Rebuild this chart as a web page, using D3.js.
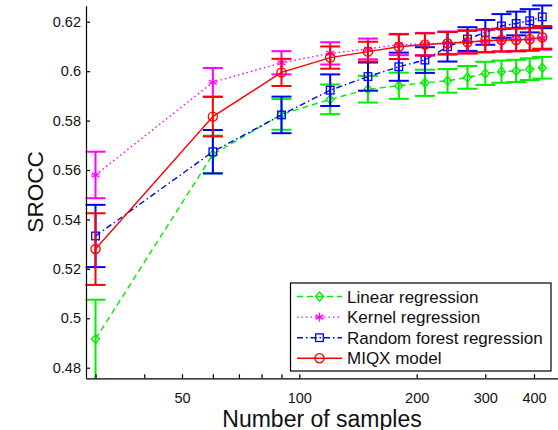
<!DOCTYPE html>
<html>
<head>
<meta charset="utf-8">
<script src="https://cdn.jsdelivr.net/npm/d3@7"></script>
<style>
  html, body { margin: 0; padding: 0; background: #fff; }
  svg { display: block; font-family: "Liberation Sans", Arial, Helvetica, sans-serif; }
</style>
</head>
<body>
<svg id="chart" width="558" height="430"></svg>
<script>
// Training-set sizes (x) and mean SROCC with error half-widths per method
const samples = [30, 60, 90, 120, 150, 180, 210, 240, 270, 300, 330, 360, 390, 420];

const linearMean = [0.4916, 0.5663, 0.5825, 0.5886, 0.5927, 0.5941, 0.5953, 0.5961, 0.5975, 0.5991, 0.5998, 0.6001, 0.6008, 0.6014];
const linearErr  = [0.0159, 0.0076, 0.0062, 0.0060, 0.0054, 0.0053, 0.0053, 0.0048, 0.0046, 0.0047, 0.0045, 0.0045, 0.0044, 0.0044];

const kernelMean = [0.5580, 0.5955, 0.6034, 0.6072, 0.6090, 0.6108, 0.6110, 0.6115, 0.6120, 0.6122, 0.6125, 0.6128, 0.6130, 0.6133];
const kernelErr  = [0.0094, 0.0058, 0.0047, 0.0045, 0.0042, 0.0043, 0.0045, 0.0045, 0.0046, 0.0046, 0.0046, 0.0046, 0.0046, 0.0046];

const forestMean = [0.5333, 0.5674, 0.5823, 0.5923, 0.5978, 0.6018, 0.6045, 0.6099, 0.6130, 0.6157, 0.6183, 0.6193, 0.6204, 0.6220];
const forestErr  = [0.0126, 0.0088, 0.0074, 0.0064, 0.0057, 0.0057, 0.0052, 0.0060, 0.0048, 0.0050, 0.0048, 0.0048, 0.0047, 0.0046];

const miqxMean = [0.5280, 0.5816, 0.5995, 0.6055, 0.6079, 0.6099, 0.6108, 0.6113, 0.6117, 0.6123, 0.6126, 0.6126, 0.6129, 0.6137];
const miqxErr  = [0.0145, 0.0080, 0.0055, 0.0045, 0.0040, 0.0050, 0.0045, 0.0046, 0.0046, 0.0046, 0.0046, 0.0046, 0.0046, 0.0046];

const seriesNames = ["Linear regression", "Kernel regression", "Random forest regression", "MIQX model"];

const xTicks = [30, 40, 50, 60, 70, 80, 90, 100, 200, 300, 400];
const xTickLabels = [50, 100, 200, 300, 400];
const yTicks = [0.48, 0.50, 0.52, 0.54, 0.56, 0.58, 0.60, 0.62];

const xTitle = "Number of samples";
const yTitle = "SROCC";

// Series styling
const series = [
  { name: seriesNames[0], mean: linearMean, err: linearErr, color: "#00ee00", dash: "6,4", marker: "diamond" },
  { name: seriesNames[1], mean: kernelMean, err: kernelErr, color: "#ff00ff", dash: "1.5,3", marker: "star" },
  { name: seriesNames[2], mean: forestMean, err: forestErr, color: "#0000ff", dash: "6,3,1.5,3", marker: "square" },
  { name: seriesNames[3], mean: miqxMean, err: miqxErr, color: "#ff0000", dash: null, marker: "circle" }
];

const svg = d3.select("#chart");

const x = d3.scaleLog().domain([28.36, 460.9]).range([86, 558]);
const y = d3.scaleLinear().domain([0.4757, 0.6265]).range([378.3, 5.7]);

const plot = svg.append("g");

function drawMarker(g, type, cx, cy, color) {
  const s = g.append("g").attr("transform", `translate(${cx},${cy})`)
    .attr("fill", "none").attr("stroke", color).attr("stroke-width", 1.3);
  if (type === "diamond") {
    s.append("path").attr("d", "M0,-4.5L4,0L0,4.5L-4,0Z");
  } else if (type === "square") {
    s.append("rect").attr("x", -3.8).attr("y", -3.8).attr("width", 7.6).attr("height", 7.6);
  } else if (type === "circle") {
    s.append("circle").attr("r", 4.6);
  } else if (type === "star") {
    const r = 4.5;
    [90, 30, 150].forEach(a => {
      const rad = a * Math.PI / 180;
      s.append("line")
        .attr("x1", -r * Math.cos(rad)).attr("y1", -r * Math.sin(rad))
        .attr("x2", r * Math.cos(rad)).attr("y2", r * Math.sin(rad));
    });
    s.append("line").attr("x1", -r).attr("x2", r).attr("y1", 0).attr("y2", 0).attr("stroke-width", 0.8);
  }
}

const capHalf = 10;
const line = d3.line().x(d => x(d[0])).y(d => y(d[1]));

series.forEach(s => {
  const g = plot.append("g");
  const pts = samples.map((n, i) => [n, s.mean[i], s.err[i]]);

  // error bars
  const eb = g.append("g").attr("stroke", s.color).attr("stroke-width", 2);
  pts.forEach(p => {
    const cx = x(p[0]);
    const lo = Math.max(p[1] - p[2], y.domain()[0]);
    const hi = p[1] + p[2];
    eb.append("line").attr("x1", cx).attr("x2", cx).attr("y1", y(lo)).attr("y2", y(hi));
    eb.append("line").attr("x1", cx - capHalf).attr("x2", cx + capHalf).attr("y1", y(hi)).attr("y2", y(hi));
    if (p[1] - p[2] >= y.domain()[0]) {
      eb.append("line").attr("x1", cx - capHalf).attr("x2", cx + capHalf).attr("y1", y(lo)).attr("y2", y(lo));
    }
  });

  // connecting line
  g.append("path").datum(pts).attr("d", line)
    .attr("fill", "none").attr("stroke", s.color).attr("stroke-width", 1.4)
    .attr("stroke-dasharray", s.dash);

  // markers
  pts.forEach(p => drawMarker(g, s.marker, x(p[0]), y(p[1]), s.color));
});

// Axes (ticks point inward)
const xAxis = d3.axisBottom(x)
  .tickValues(xTicks)
  .tickFormat(d => xTickLabels.includes(d) ? String(d) : "")
  .tickSizeInner(-4).tickSizeOuter(0).tickPadding(14);

const yAxis = d3.axisLeft(y)
  .tickValues(yTicks)
  .tickFormat(d => String(+d.toFixed(2)))
  .tickSizeInner(-4).tickSizeOuter(0).tickPadding(5);

const gx = svg.append("g").attr("transform", "translate(0,378.3)").call(xAxis);
const gy = svg.append("g").attr("transform", "translate(86,0)").call(yAxis);

[gx, gy].forEach(g => {
  g.select(".domain").attr("stroke", "#000").attr("stroke-width", 1.2);
  g.selectAll(".tick line").attr("stroke", "#000").attr("stroke-width", 1.2);
  g.selectAll(".tick text").attr("fill", "#111").attr("font-size", 14.5)
    .attr("font-family", "'Liberation Sans', Arial, Helvetica, sans-serif");
});

// Axis titles
svg.append("text").attr("x", 322).attr("y", 426.5).attr("text-anchor", "middle")
  .attr("font-size", 23).attr("fill", "#111").text(xTitle);
svg.append("text").attr("transform", "translate(42.5,192) rotate(-90)").attr("text-anchor", "middle")
  .attr("font-size", 22.5).attr("fill", "#111").text(yTitle);

// Legend
const legend = svg.append("g");
legend.append("rect").attr("x", 290.5).attr("y", 283).attr("width", 260.5).attr("height", 88)
  .attr("fill", "#fff").attr("stroke", "#000").attr("stroke-width", 1.2);

series.forEach((s, i) => {
  const cy = 296.5 + i * 20.6;
  legend.append("line").attr("x1", 297).attr("x2", 342).attr("y1", cy).attr("y2", cy)
    .attr("stroke", s.color).attr("stroke-width", 1.4).attr("stroke-dasharray", s.dash);
  drawMarker(legend, s.marker, 319.5, cy, s.color);
  legend.append("text").attr("x", 347).attr("y", cy + 6).attr("font-size", 17)
    .attr("fill", "#111").text(s.name);
});
</script>
</body>
</html>
